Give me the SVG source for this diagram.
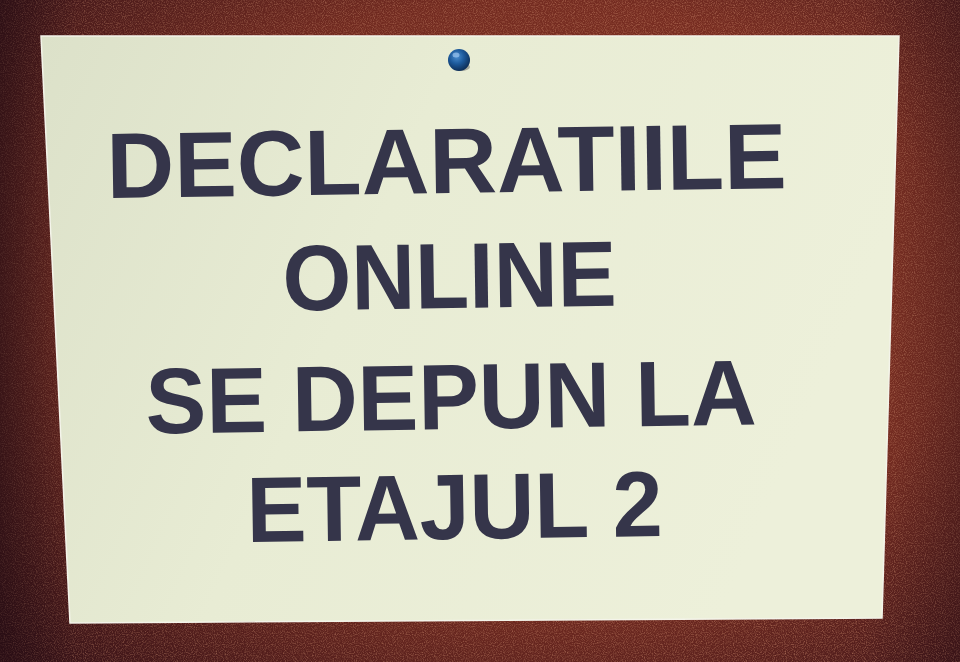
<svg xmlns="http://www.w3.org/2000/svg" width="960" height="662" viewBox="0 0 960 662">
  <defs>
    <radialGradient id="cork" cx="55%" cy="45%" r="75%">
      <stop offset="0" stop-color="#953f2a"/>
      <stop offset="0.6" stop-color="#7a2e22"/>
      <stop offset="1" stop-color="#3c1419"/>
    </radialGradient>
    <linearGradient id="leftshade" x1="0" y1="0" x2="1" y2="0">
      <stop offset="0" stop-color="#1e0a12" stop-opacity="0.6"/>
      <stop offset="0.08" stop-color="#1e0a12" stop-opacity="0.15"/>
      <stop offset="0.9" stop-color="#1e0a12" stop-opacity="0"/>
      <stop offset="1" stop-color="#1e0a12" stop-opacity="0.3"/>
    </linearGradient>
    <linearGradient id="paper" x1="0" y1="0" x2="1" y2="0.3">
      <stop offset="0" stop-color="#dce1c9"/>
      <stop offset="0.45" stop-color="#e8ecd4"/>
      <stop offset="1" stop-color="#edf0da"/>
    </linearGradient>
    <radialGradient id="pin" cx="40%" cy="35%" r="65%">
      <stop offset="0" stop-color="#4a8ed0"/>
      <stop offset="0.5" stop-color="#1d5a9c"/>
      <stop offset="1" stop-color="#0d2f5a"/>
    </radialGradient>
    <filter id="grain" x="0" y="0" width="100%" height="100%">
      <feTurbulence type="fractalNoise" baseFrequency="0.9" numOctaves="2" seed="3" result="n"/>
      <feColorMatrix in="n" type="matrix" values="0 0 0 0 0.8  0 0 0 0 0.38  0 0 0 0 0.22  0 0 0 1.4 -0.6" result="c"/>
      <feComposite in="c" in2="SourceGraphic" operator="in"/>
    </filter>
    <style>
      .t { font-family: "Liberation Sans", Arial, sans-serif; font-weight: bold; font-size: 93px; fill: #35354a; text-anchor: start; }
    </style>
  </defs>

  <g id="background">
    <rect x="0" y="0" width="960" height="662" fill="url(#cork)"/>
    <rect x="0" y="0" width="960" height="662" fill="#000" filter="url(#grain)" opacity="0.7"/>
    <rect x="0" y="0" width="960" height="662" fill="url(#leftshade)"/>
  </g>

  <g id="paper-sheet">
    <polygon points="41,36 899,36 882,618 70,623" fill="url(#paper)" stroke="#f4f4ea" stroke-width="1.5"/>
  </g>

  <g id="pin-node">
    <ellipse cx="461" cy="67" rx="9" ry="4" fill="#2a2a30" opacity="0.35"/>
    <circle cx="459" cy="60" r="11" fill="url(#pin)"/>
    <ellipse cx="456" cy="55" rx="3.5" ry="2.5" fill="#9cc6f0" opacity="0.7"/>
  </g>

  <g id="text">
    <text class="t" x="107" y="193" textLength="680" lengthAdjust="spacingAndGlyphs" transform="rotate(-0.85 447 193)">DECLARATIILE</text>
    <text class="t" x="283" y="308" textLength="334" lengthAdjust="spacingAndGlyphs" transform="rotate(-0.85 450 308)">ONLINE</text>
    <text class="t" x="146" y="429" textLength="611" lengthAdjust="spacingAndGlyphs" transform="rotate(-0.85 451 429)">SE DEPUN LA</text>
    <text class="t" x="247" y="539" textLength="416" lengthAdjust="spacingAndGlyphs" transform="rotate(-0.85 455 539)">ETAJUL 2</text>
  </g>
</svg>
